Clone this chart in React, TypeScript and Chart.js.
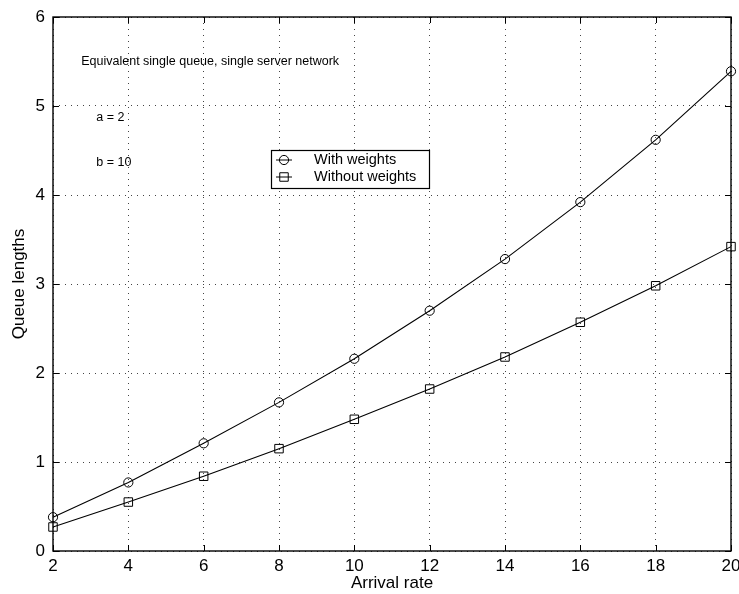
import React, { useEffect, useRef } from "react";
import { Chart, registerables } from "chart.js";

Chart.register(...registerables);

const arrivalRates = [2, 4, 6, 8, 10, 12, 14, 16, 18, 20];
const withWeights = [0.38, 0.77, 1.21, 1.67, 2.16, 2.7, 3.28, 3.92, 4.62, 5.39];
const withoutWeights = [0.27, 0.55, 0.84, 1.15, 1.48, 1.82, 2.18, 2.57, 2.98, 3.42];
const seriesLabels = ["With weights", "Without weights"];
const annotationTexts = ["Equivalent single queue, single server network", "a = 2", "b = 10"];
const xTitle = "Arrival rate";
const yTitle = "Queue lengths";

const FONT = "'Liberation Sans', Arial, Helvetica, sans-serif";

const framePlugin = {
  id: "frameTicks",
  afterDraw(chart: any) {
    const { ctx, chartArea: a, scales } = chart;
    ctx.save();
    ctx.strokeStyle = "#000";
    ctx.lineWidth = 1.4;
    ctx.strokeRect(a.left, a.top, a.right - a.left, a.bottom - a.top);
    const tl = 6;
    ctx.beginPath();
    scales.x.ticks.forEach((t: any) => {
      const px = Math.round(scales.x.getPixelForValue(t.value)) + 0.5;
      ctx.moveTo(px, a.bottom);
      ctx.lineTo(px, a.bottom - tl);
      ctx.moveTo(px, a.top);
      ctx.lineTo(px, a.top + tl);
    });
    scales.y.ticks.forEach((t: any) => {
      const py = Math.round(scales.y.getPixelForValue(t.value)) + 0.5;
      ctx.moveTo(a.left, py);
      ctx.lineTo(a.left + tl, py);
      ctx.moveTo(a.right, py);
      ctx.lineTo(a.right - tl, py);
    });
    ctx.lineWidth = 1;
    ctx.stroke();

    // annotations
    const xs = scales.x, ys = scales.y;
    ctx.fillStyle = "#000";
    ctx.font = `12.5px ${FONT}`;
    ctx.textBaseline = "middle";
    ctx.textAlign = "left";
    ctx.fillText(annotationTexts[0], xs.getPixelForValue(2.75), ys.getPixelForValue(5.5));
    ctx.fillText(annotationTexts[1], xs.getPixelForValue(3.15), ys.getPixelForValue(4.875));
    ctx.fillText(annotationTexts[2], xs.getPixelForValue(3.15), ys.getPixelForValue(4.37));

    // legend
    const bx = a.left + 218, by = a.top + 133, bw = 158, bh = 38;
    ctx.fillStyle = "#fff";
    ctx.fillRect(bx, by, bw, bh);
    ctx.strokeStyle = "#000";
    ctx.lineWidth = 1.2;
    ctx.strokeRect(bx + 0.5, by + 0.5, bw, bh);
    const rows = [by + 10, by + 27];
    chart.data.datasets.forEach((ds: any, i: number) => {
      const y = rows[i];
      ctx.beginPath();
      ctx.lineWidth = 1;
      ctx.strokeStyle = "#000";
      ctx.moveTo(bx + 5, y);
      ctx.lineTo(bx + 21, y);
      ctx.stroke();
      const meta = chart.getDatasetMeta(i);
      const el = meta.data[0];
      if (el) {
        const opts = el.options;
        ctx.beginPath();
        if (ds.pointStyle === "circle") {
          ctx.arc(bx + 13, y, opts.radius, 0, Math.PI * 2);
        } else {
          const s = Math.SQRT1_2 * opts.radius;
          ctx.rect(bx + 13 - s, y - s, 2 * s, 2 * s);
        }
        ctx.stroke();
      }
      ctx.fillStyle = "#000";
      ctx.font = `14.5px ${FONT}`;
      ctx.textAlign = "left";
      ctx.textBaseline = "middle";
      ctx.fillText(ds.label, bx + 43, y);
    });
    ctx.restore();
  },
};

export default function App() {
  const ref = useRef<HTMLCanvasElement>(null);
  useEffect(() => {
    if (!ref.current) return;
    const chart = new Chart(ref.current, {
      type: "line",
      data: {
        labels: arrivalRates,
        datasets: [
          {
            label: seriesLabels[0],
            data: arrivalRates.map((x, i) => ({ x, y: withWeights[i] })),
            borderColor: "#000",
            borderWidth: 1.1,
            backgroundColor: "rgba(0,0,0,0)",
            pointStyle: "circle",
            pointRadius: 4.6,
            pointBorderColor: "#000",
            pointBackgroundColor: "rgba(0,0,0,0)",
            pointBorderWidth: 1,
            tension: 0,
            clip: false as any,
          },
          {
            label: seriesLabels[1],
            data: arrivalRates.map((x, i) => ({ x, y: withoutWeights[i] })),
            borderColor: "#000",
            borderWidth: 1.1,
            backgroundColor: "rgba(0,0,0,0)",
            pointStyle: "rect",
            pointRadius: 6,
            pointBorderColor: "#000",
            pointBackgroundColor: "rgba(0,0,0,0)",
            pointBorderWidth: 1,
            tension: 0,
            clip: false as any,
          },
        ],
      },
      options: {
        responsive: false,
        animation: false,
        devicePixelRatio: 1,
        layout: { padding: { top: 17, right: 8, left: 0, bottom: 0 } },
        plugins: { legend: { display: false }, tooltip: { enabled: false } },
        scales: {
          x: {
            type: "linear",
            min: 2,
            max: 20,
            ticks: { stepSize: 2, color: "#000", font: { size: 17, family: FONT }, padding: 5, maxRotation: 0 },
            grid: { color: "#444", lineWidth: 1, drawTicks: false },
            border: { display: false, dash: [1, 5] },
            title: { display: true, text: xTitle, color: "#000", font: { size: 17, family: FONT }, padding: { top: 0, bottom: 0 } },
            afterFit: (s: any) => { s.height = 43; s.paddingLeft = 0; s.paddingRight = 0; },
          },
          y: {
            type: "linear",
            min: 0,
            max: 6,
            ticks: { stepSize: 1, color: "#000", font: { size: 17, family: FONT }, padding: 8 },
            grid: { color: "#444", lineWidth: 1, drawTicks: false },
            border: { display: false, dash: [1, 5] },
            title: { display: true, text: yTitle, color: "#000", font: { size: 17, family: FONT }, padding: { top: 9, bottom: 0 } },
            afterFit: (s: any) => { s.width = 53; s.paddingTop = 0; s.paddingBottom = 0; },
          },
        },
      },
      plugins: [framePlugin],
    });
    return () => chart.destroy();
  }, []);
  return (
    <div style={{ position: "absolute", left: 0, top: 0, width: 739, height: 594, background: "#fff" }}>
      <canvas ref={ref} width={739} height={594} style={{ display: "block" }} />
    </div>
  );
}
